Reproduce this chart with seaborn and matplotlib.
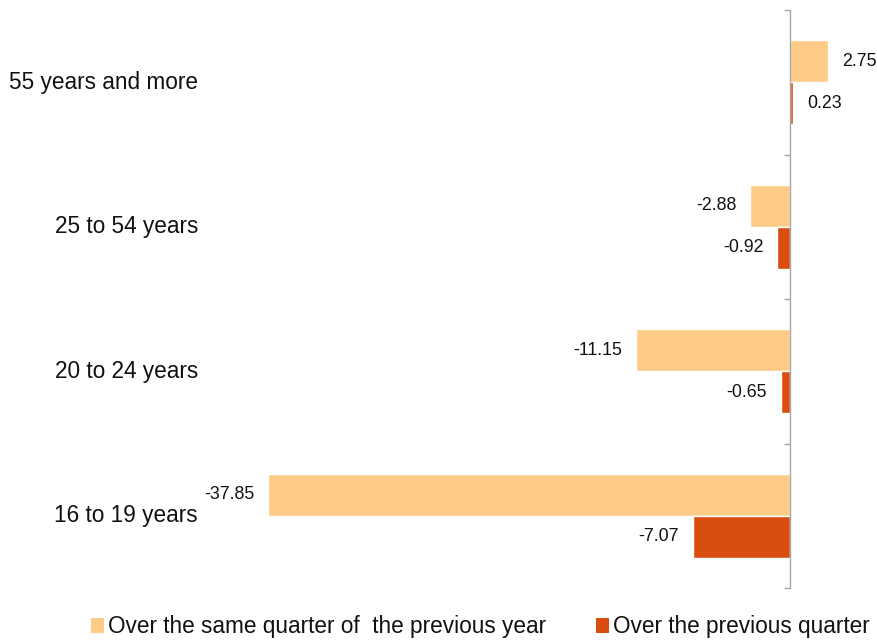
import matplotlib
matplotlib.use("Agg")
import matplotlib.pyplot as plt
from matplotlib.patches import Patch
from matplotlib.transforms import blended_transform_factory
import seaborn as sns
import pandas as pd

# Age groups, listed top to bottom
age_groups = ["55 years and more", "25 to 54 years", "20 to 24 years", "16 to 19 years"]
series_names = ["Over the same quarter of  the previous year", "Over the previous quarter"]
yearly_change = [2.75, -2.88, -11.15, -37.85]
quarterly_change = [0.23, -0.92, -0.65, -7.07]
colors = ["#FFCC88", "#D84E10"]

df = pd.DataFrame({
    "group": age_groups * 2,
    "series": [series_names[0]] * len(age_groups) + [series_names[1]] * len(age_groups),
    "change": yearly_change + quarterly_change,
})

sns.set_theme(style="white")
plt.rcParams["font.family"] = ["Liberation Sans", "DejaVu Sans"]

W, H = 877, 641
fig = plt.figure(figsize=(W / 100, H / 100), dpi=100)
ax = fig.add_axes([210.8 / W, (H - 588) / H, 648.2 / W, 578 / H])

sns.barplot(data=df, x="change", y="group", hue="series", order=age_groups,
            hue_order=series_names, palette=colors, orient="h", width=0.58,
            saturation=1, legend=False, ax=ax)

ax.set_xlim(-42, 5)
ax.set_ylim(len(age_groups) - 0.5, -0.5)

# value labels beside each bar
for cont in ax.containers:
    ax.bar_label(cont, fmt="%.2f", padding=10, fontsize=12.8, color="#111111")

# only the zero line is shown, with ticks between the groups
for side in ["top", "right", "bottom"]:
    ax.spines[side].set_visible(False)
ax.spines["left"].set_position(("data", 0))
ax.spines["left"].set_color("#A6A6A6")
ax.spines["left"].set_linewidth(1.0)
ax.set_xticks([])
ax.set_yticks(range(len(age_groups)))
ax.set_yticklabels([])
ax.set_yticks([i - 0.5 for i in range(len(age_groups) + 1)], minor=True)
ax.tick_params(axis="y", which="major", length=0, left=True)
ax.tick_params(axis="y", which="minor", length=4.5, width=1.0, color="#A6A6A6", left=True)
ax.set_xlabel("")
ax.set_ylabel("")

# category labels on the far left
trans = blended_transform_factory(fig.transFigure, ax.transData)
for i, name in enumerate(age_groups):
    ax.text(198 / W, i, name, transform=trans, ha="right", va="center",
            fontsize=16.3, color="#111111")

handles = [Patch(facecolor=c, edgecolor="none") for c in colors]
fig.legend(handles, series_names, loc="center", bbox_to_anchor=(480 / W, 1 - 627 / H),
           ncol=2, frameon=False, fontsize=16.3, handlelength=0.6, handleheight=0.6,
           handletextpad=0.15, columnspacing=2.2, borderpad=0, labelcolor="#111111")

fig.savefig("out.png", dpi=100)
